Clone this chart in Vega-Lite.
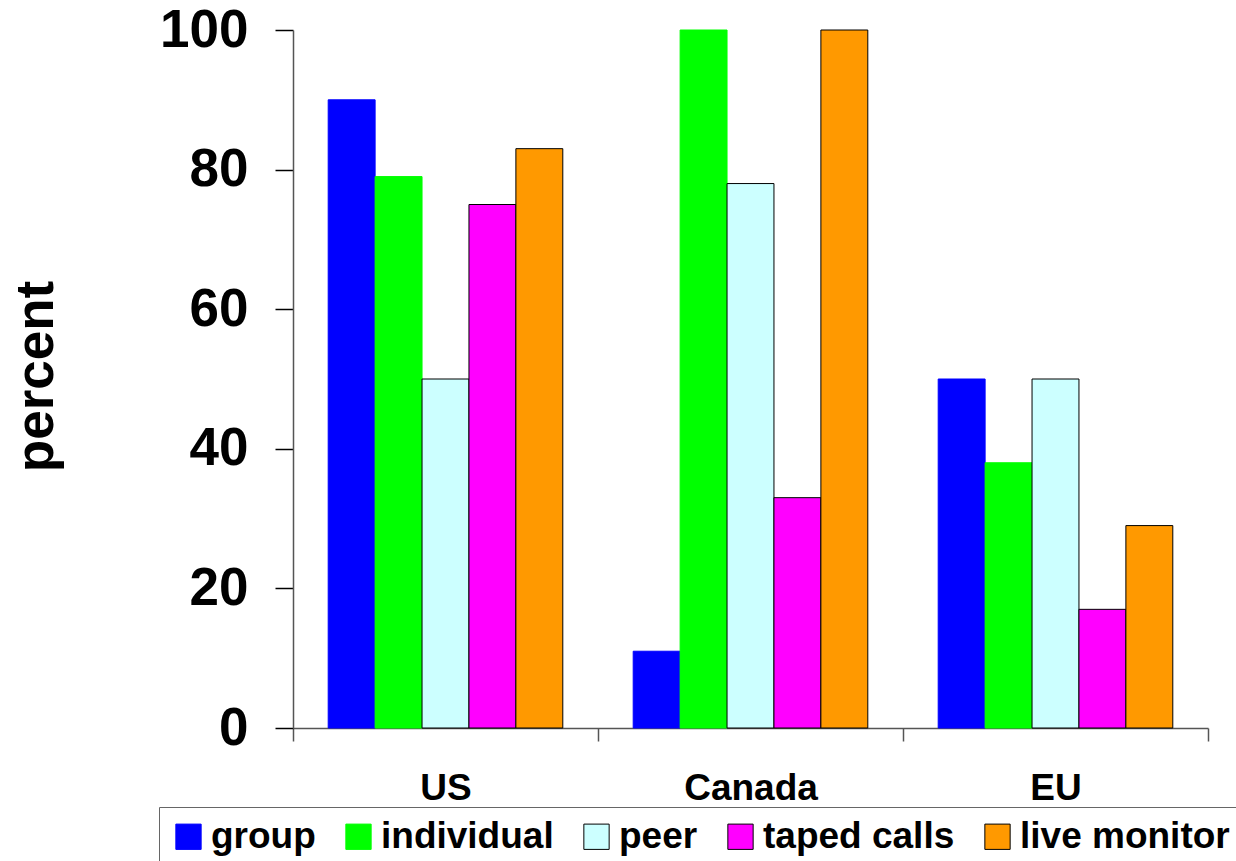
{
  "$schema": "https://vega.github.io/schema/vega-lite/v6.json",
  "width": 915,
  "height": 698,
  "autosize": "none",
  "padding": {"left": 293, "top": 30, "right": 28, "bottom": 133},
  "background": "white",
  "config": {
    "view": {"stroke": null},
    "font": "Liberation Sans"
  },
  "data": {
    "values": [
      {"region": "US", "type": "group", "percent": 90},
      {"region": "US", "type": "individual", "percent": 79},
      {"region": "US", "type": "peer", "percent": 50},
      {"region": "US", "type": "taped calls", "percent": 75},
      {"region": "US", "type": "live monitor", "percent": 83},
      {"region": "Canada", "type": "group", "percent": 11},
      {"region": "Canada", "type": "individual", "percent": 100},
      {"region": "Canada", "type": "peer", "percent": 78},
      {"region": "Canada", "type": "taped calls", "percent": 33},
      {"region": "Canada", "type": "live monitor", "percent": 100},
      {"region": "EU", "type": "group", "percent": 50},
      {"region": "EU", "type": "individual", "percent": 38},
      {"region": "EU", "type": "peer", "percent": 50},
      {"region": "EU", "type": "taped calls", "percent": 17},
      {"region": "EU", "type": "live monitor", "percent": 29}
    ]
  },
  "mark": {"type": "bar", "strokeWidth": 1},
  "encoding": {
    "x": {
      "field": "region",
      "type": "nominal",
      "sort": ["US", "Canada", "EU"],
      "scale": {"paddingInner": 0, "paddingOuter": 0},
      "axis": {
        "title": null,
        "labelAngle": 0,
        "tickBand": "extent",
        "labelFont": "Liberation Sans",
        "labelFontSize": 37,
        "labelFontWeight": "bold",
        "labelColor": "black",
        "labelBaseline": "alphabetic",
        "labelPadding": 58,
        "tickSize": 13,
        "domainColor": "#555",
        "tickColor": "#555",
        "domainWidth": 1.5,
        "tickWidth": 1.5
      }
    },
    "xOffset": {
      "field": "type",
      "sort": ["group", "individual", "peer", "taped calls", "live monitor"],
      "scale": {"paddingOuter": 0.75, "paddingInner": 0}
    },
    "y": {
      "field": "percent",
      "type": "quantitative",
      "scale": {"domain": [0, 100], "nice": false},
      "axis": {
        "title": "percent",
        "grid": false,
        "values": [0, 20, 40, 60, 80, 100],
        "labelFont": "Liberation Sans",
        "labelFontSize": 53,
        "labelFontWeight": "bold",
        "labelColor": "black",
        "labelPadding": 27,
        "labelBaseline": "middle",
        "tickSize": 18,
        "tickColor": "black",
        "tickWidth": 1.5,
        "domainColor": "#555",
        "domainWidth": 1.5,
        "titleFont": "Liberation Sans",
        "titleFontSize": 53,
        "titleFontWeight": "bold",
        "titleColor": "black",
        "titleAngle": -90,
        "titleAlign": "center",
        "titleBaseline": "alphabetic",
        "titleX": -241,
        "titleY": 346
      }
    },
    "fill": {
      "field": "type",
      "type": "nominal",
      "sort": ["group", "individual", "peer", "taped calls", "live monitor"],
      "scale": {
        "domain": ["group", "individual", "peer", "taped calls", "live monitor"],
        "range": ["#0000FF", "#00FF00", "#CCFFFF", "#FF00FF", "#FF9900"]
      },
      "legend": {
        "title": null,
        "orient": "none",
        "direction": "horizontal",
        "legendX": -134,
        "legendY": 777,
        "padding": 11,
        "strokeColor": "#666",
        "fillColor": "white",
        "symbolType": "square",
        "symbolSize": 640,
        "symbolStrokeWidth": 1,
        "labelFont": "Liberation Sans",
        "labelFontSize": 37,
        "labelFontWeight": "bold",
        "labelColor": "black",
        "labelOffset": 4,
        "columnPadding": 24,
        "labelLimit": 400
      }
    },
    "stroke": {
      "field": "type",
      "type": "nominal",
      "sort": ["group", "individual", "peer", "taped calls", "live monitor"],
      "scale": {
        "domain": ["group", "individual", "peer", "taped calls", "live monitor"],
        "range": ["#0000FF", "#00FF00", "#000000", "#000000", "#000000"]
      },
      "legend": {
        "title": null,
        "orient": "none",
        "direction": "horizontal",
        "legendX": -134,
        "legendY": 777,
        "padding": 11,
        "strokeColor": "#666",
        "fillColor": "white",
        "symbolType": "square",
        "symbolSize": 640,
        "symbolStrokeWidth": 1,
        "labelFont": "Liberation Sans",
        "labelFontSize": 37,
        "labelFontWeight": "bold",
        "labelColor": "black",
        "labelOffset": 4,
        "columnPadding": 24,
        "labelLimit": 400
      }
    }
  }
}
